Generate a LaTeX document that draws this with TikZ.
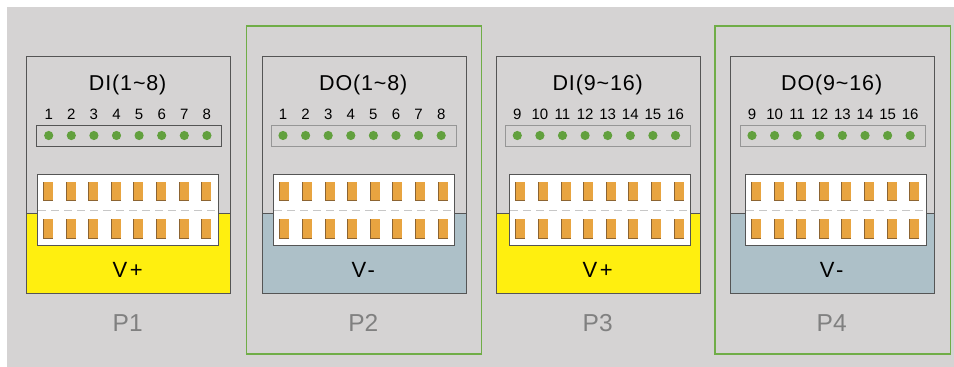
\documentclass[tikz,border=0pt]{standalone}
\usepackage{fontspec}
\setmainfont{Liberation Sans}
\definecolor{bg}{RGB}{213,211,211}
\definecolor{vplus}{RGB}{255,239,15}
\definecolor{vminus}{RGB}{173,192,200}
\definecolor{led}{RGB}{98,160,62}
\definecolor{frame}{RGB}{112,173,71}
\definecolor{pad}{RGB}{232,164,64}
\definecolor{padedge}{RGB}{140,100,50}
\definecolor{edge}{RGB}{85,85,85}
\definecolor{stripl}{RGB}{150,150,150}
\definecolor{plab}{RGB}{128,128,128}
\tikzset{
  frm/.style={draw=frame, line width=1.3pt},
  modbox/.style={draw=edge, line width=0.9pt},
  ttlfont/.style={font=\fontsize{21.5}{21.5}\selectfont\addfontfeature{LetterSpace=4}},
  numfont/.style={font=\fontsize{15}{15}\selectfont},
  vfont/.style={font=\fontsize{22}{22}\selectfont\addfontfeature{LetterSpace=12}},
  pfont/.style={font=\fontsize{24.5}{24.5}\selectfont, text=plab},
  dashln/.style={draw=black!22, line width=0.9pt, dash pattern=on 8pt off 5pt},
}
\begin{document}
\begin{tikzpicture}[x=1pt,y=-1pt]
\useasboundingbox (0,0) rectangle (954,367);
\fill[white] (0,0) rectangle (954,367);
\fill[bg] (7,7) rectangle (954,367);
\draw[frm] (246.7,26) rectangle (481.7,354);
\draw[frm] (715,26) rectangle (950.3,354);
\foreach \L/\sL/\cL/\ttl/\n/\col/\vt/\pl/\sc in {
  26.7/36.7/37/DI(1\textasciitilde8)/1/vplus/V+/P1/edge,
  262.3/271/273.3/DO(1\textasciitilde8)/1/vminus/V-/P2/stripl,
  496.7/505.3/509.3/DI(9\textasciitilde16)/9/vplus/V+/P3/stripl,
  730.7/740/745/DO(9\textasciitilde16)/9/vminus/V-/P4/stripl}{
  \fill[\col] (\L,213) rectangle ++(204,80);
  \draw[modbox] (\L,56) rectangle ++(204,237);
  \draw[draw=edge, line width=0.9pt] (\L,213) -- ++(204,0);
  \draw[draw=\sc, line width=0.9pt] (\sL,125) rectangle ++(185,21);
  \foreach \i in {0,...,7}{
    \pgfmathtruncatemacro{\num}{\n+\i}
    \fill[led] (\sL+12+22.6*\i,135.5) circle (4.6);
    \node[numfont, anchor=base, inner sep=0pt] (n\pl\i) at (\sL+12+22.6*\i,119.3) {\num};
  }
  \draw[draw=edge, fill=white, line width=0.9pt] (\cL,174) rectangle ++(181,71.7);
  \draw[dashln] (\cL+1,210) -- ++(179,0);
  \foreach \i in {0,...,7}{
    \fill[pad] (\cL+6+22.6*\i,182) rectangle ++(10,19);
    \draw[padedge, line width=0.8pt] (\cL+6.4+22.6*\i,182) |- ++(9.6,18.6);
    \fill[pad] (\cL+6+22.6*\i,219) rectangle ++(10,20);
    \draw[padedge, line width=0.8pt] (\cL+6.4+22.6*\i,219) |- ++(9.6,19.6);
  }
  \node[ttlfont, anchor=base, inner sep=0pt] (t\pl) at (\L+101,90.7) {\ttl};
  \node[vfont, anchor=base, inner sep=0pt] (v\pl) at (\L+101,277) {\vt};
  \node[pfont, anchor=base, inner sep=0pt] (p\pl) at (\L+101,331.7) {\pl};
}
\end{tikzpicture}
\end{document}
